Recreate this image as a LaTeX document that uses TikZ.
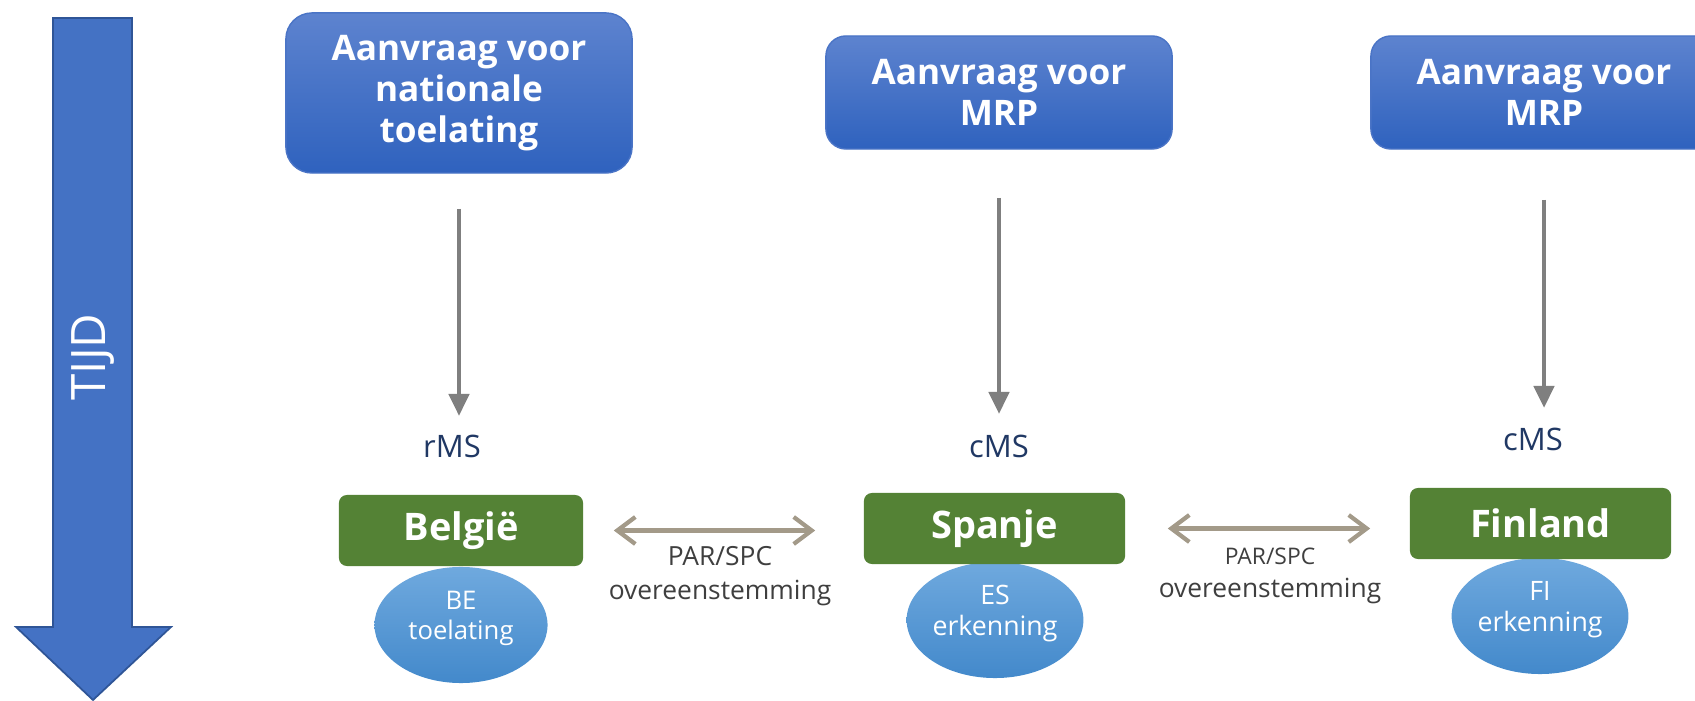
\documentclass[tikz,border=0pt]{standalone}
\usepackage{fontspec}
\setmainfont{Open Sans}
\usetikzlibrary{arrows.meta,shapes.geometric}
\definecolor{tijdblue}{HTML}{4472C4}
\definecolor{tijdedge}{HTML}{2F5597}
\definecolor{boxtop}{HTML}{5D83CF}
\definecolor{boxbot}{HTML}{2F62BE}
\definecolor{boxedge}{HTML}{4A74C6}
\definecolor{landgreen}{HTML}{548235}
\definecolor{ovtop}{HTML}{6FA9DE}
\definecolor{ovbot}{HTML}{4389CB}
\definecolor{rolnavy}{HTML}{203864}
\definecolor{pijlgrijs}{HTML}{7F7F7F}
\definecolor{paartan}{HTML}{A39A89}
\definecolor{paartext}{HTML}{3F3F3F}
\tikzset{
  aanvraag/.style={draw=boxedge, line width=0.4pt, top color=boxtop, bottom color=boxbot,
    text=white, minimum width=3.46cm, align=center, inner sep=0pt,
    font=\fontsize{10}{11.7}\selectfont\bfseries},
  land/.style={fill=landgreen, rounded corners=0.08cm, text=white, minimum height=0.71cm,
    inner sep=0pt},
  besluit/.style={ellipse, top color=ovtop, bottom color=ovbot, text=white, align=center,
    inner sep=0pt, text depth=5.5pt},
  rol/.style={text=rolnavy, inner sep=0pt, font=\fontsize{8.8}{10}\selectfont},
  tijdpijl/.style={draw=pijlgrijs, line width=1.3pt, -{Triangle[length=0.22cm,width=0.2cm]}},
  paar/.style={draw=paartan, line width=1.2pt,
    {Straight Barb[length=0.18cm,width=0.27cm]}-{Straight Barb[length=0.18cm,width=0.27cm]}},
  paartekst/.style={text=paartext, align=center, inner sep=0pt, font=\fontsize{7.5}{9.5}\selectfont}
}
\begin{document}
\begin{tikzpicture}[x=0.01cm, y=-0.01cm]
\clip (0,0) rectangle (1695,701);
\fill[white] (0,0) rectangle (1695,701);
% tijdlijn
\draw[tijdedge, fill=tijdblue, line width=0.5pt] (53,18) -- (132,18) -- (132,627) -- (171,627)
    -- (93,700) -- (16,627) -- (53,627) -- cycle;
\node[text=white, rotate=90, font=\fontsize{13.5}{15}\selectfont] (tijd) at (93,357) {TIJD};
% aanvragen
\node[aanvraag, rounded corners=0.26cm, minimum height=1.6cm] (a1) at (459,93)
    {Aanvraag voor\\nationale\\toelating};
\foreach \n/\x in {a2/999, a3/1544}
    \node[aanvraag, rounded corners=0.2cm, minimum height=1.13cm] (\n) at (\x,92.5)
        {Aanvraag voor\\MRP};
% erkenningen
\foreach \n/\x/\y/\t/\f in {e1/461/625/{BE\\toelating}/7.3, e2/995/620/{ES\\erkenning}/7.6,
                            e3/1540/616/{FI\\erkenning}/7.6}
    \node[besluit, minimum width=1.73cm, minimum height=1.16cm,
          font=\fontsize{\f}{8.8}\selectfont] (\n) at (\x,\y) {\t};
% lidstaten
\foreach \n/\x/\y/\w/\t in {g1/461/530.5/2.44/België, g2/994.5/528.5/2.61/Spanje,
                            g3/1540.5/523.5/2.61/Finland}
    \node[land, minimum width=\w cm, font=\fontsize{10.8}{13}\selectfont\bfseries] (\n)
        at (\x,\y) {\t};
\node[rol] (r1) at (452,446) {rMS};
\node[rol] (r2) at (999,446) {cMS};
\node[rol] (r3) at (1533,439) {cMS};
\draw[tijdpijl, shorten <=0.35cm, shorten >=0.18cm] (a1.south) -- (a1.south |- r1.north);
\draw[tijdpijl, shorten <=0.48cm, shorten >=0.2cm] (a2.south) -- (a2.south |- r2.north);
\draw[tijdpijl, shorten <=0.5cm, shorten >=0.19cm] (a3.south) -- (a3.south |- r3.north);
% overeenstemming
\draw[paar, shorten <=0.3cm, shorten >=0.48cm] (g1.east) -- (g1.east -| g2.west);
\draw[paar, shorten <=0.42cm, shorten >=0.39cm] (g2.east) -- (g2.east -| g3.west);
\node[paartekst] (p1) at (720,576) {PAR/SPC\\overeenstemming};
\node[paartekst] (p2) at (1270,576) {{\fontsize{6.5}{9.5}\selectfont PAR/SPC}\\overeenstemming};
\end{tikzpicture}
\end{document}
